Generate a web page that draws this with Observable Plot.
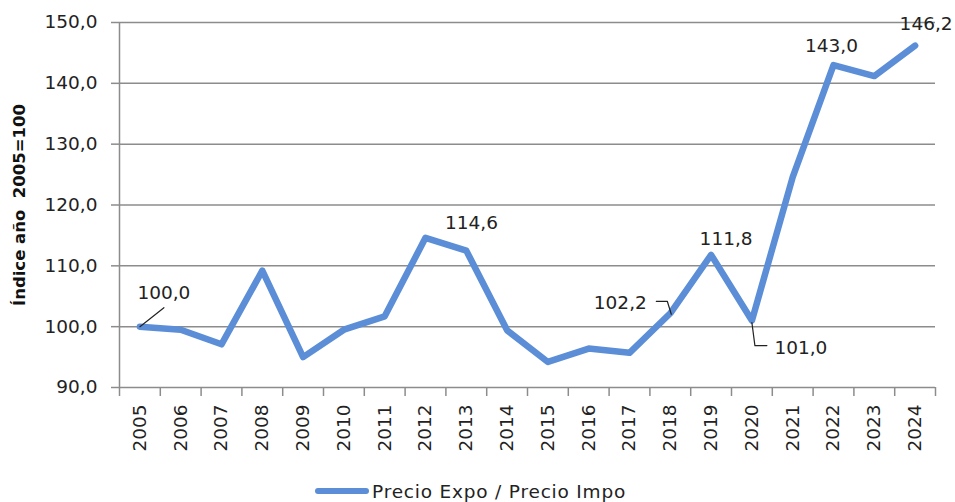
<!DOCTYPE html>
<html>
<head>
<meta charset="utf-8">
<script src="https://cdn.jsdelivr.net/npm/d3@7"></script>
<script src="https://cdn.jsdelivr.net/npm/@observablehq/plot@0.6"></script>
<style>
  html, body { margin: 0; padding: 0; background: #fff; }
  #wrap { position: relative; width: 955px; height: 502px; overflow: hidden; }
  #legend { position: absolute; left: 315px; top: 478px; height: 26px; display: flex; align-items: center;
            font-family: "DejaVu Sans", sans-serif; font-size: 18.5px; letter-spacing: 0.8px; color: #222; white-space: nowrap; }
  #legend .sw { display: inline-block; width: 54px; height: 6px; border-radius: 3px; background: #5b8ed6; margin-right: 3px; }
</style>
</head>
<body>
<div id="wrap">
  <div id="chart"></div>
  <div id="legend"><span class="sw"></span><span>Precio Expo / Precio Impo</span></div>
</div>
<script>
// ---- data ----
const years = [2005, 2006, 2007, 2008, 2009, 2010, 2011, 2012, 2013, 2014,
               2015, 2016, 2017, 2018, 2019, 2020, 2021, 2022, 2023, 2024];
const values = [100.0, 99.5, 97.1, 109.2, 95.0, 99.5, 101.7, 114.6, 112.5, 99.4,
                94.2, 96.4, 95.7, 102.2, 111.8, 101.0, 124.6, 143.0, 141.2, 146.2];
const yTicks = [90, 100, 110, 120, 130, 140, 150];
const labeledYears = [2005, 2012, 2018, 2019, 2020, 2022, 2024];
const seriesName = "Precio Expo / Precio Impo";
const yTitle = "Índice año\u00a0 2005=100";

// ---- layout ----
const W = 955, H = 476, mL = 119, mR = 20, mT = 22, mB = 89;
const xDomain = [years[0] - 0.5, years[years.length - 1] + 0.5];
const yDomain = [90, 150];
const pxPerYear = (W - mL - mR) / (xDomain[1] - xDomain[0]);
const pxPerUnit = (H - mT - mB) / (yDomain[1] - yDomain[0]);

const fmt = d => d3.format(".1f")(d).replace(".", ",");
const data = years.map((year, i) => ({year, value: values[i]}));
const byYear = new Map(data.map(d => [d.year, d]));

// label placement (pixel offsets from the data point)
const labelOffsets = {2005: [24, -34], 2012: [46, -15], 2018: [-50, -10], 2019: [15, -16],
                      2020: [49, 27], 2022: [-2, -19], 2024: [11, -22]};
const leaderOffsets = {2005: [[0, 0], [24, -19]],
                       2018: [[-14, -12], [-3, -12], [1, 1]],
                       2020: [[0, 2], [3, 25], [15, 25]]};

const labels = labeledYears.map(y => {
  const d = byYear.get(y), [ox, oy] = labelOffsets[y];
  return {x: d.year + ox / pxPerYear, y: d.value - oy / pxPerUnit, text: fmt(d.value)};
});
const leaders = [];
for (const [y, pts] of Object.entries(leaderOffsets)) {
  const d = byYear.get(+y);
  for (const [ox, oy] of pts) leaders.push({g: y, x: d.year + ox / pxPerYear, y: d.value - oy / pxPerUnit});
}
const boundaries = years.map(y => y - 0.5).concat([years[years.length - 1] + 0.5]);

const gray = "#8c8c8c";
const chart = Plot.plot({
  width: W, height: H, marginLeft: mL, marginRight: mR, marginTop: mT, marginBottom: mB,
  style: {fontFamily: "DejaVu Sans, sans-serif", fontSize: "18.5px", color: "#222", background: "#fff"},
  x: {type: "linear", domain: xDomain},
  y: {domain: yDomain},
  marks: [
    Plot.gridY(yTicks, {stroke: gray, strokeOpacity: 1, strokeWidth: 1.5}),
    Plot.ruleX([xDomain[0]], {stroke: gray, strokeWidth: 1.5}),
    Plot.axisY({ticks: yTicks, tickSize: 8, tickPadding: 14, tickFormat: fmt, stroke: gray, strokeWidth: 1.5, label: null, fill: "#222"}),
    Plot.axisX({ticks: boundaries, tickSize: 9, tickFormat: () => "", stroke: gray, strokeWidth: 1.5, label: null}),
    Plot.axisX({ticks: years, tickSize: 0, tickRotate: -90, tickPadding: 17, tickFormat: d => String(d), label: null, fill: "#222"}),
    Plot.text([yTitle], {frameAnchor: "left", textAnchor: "middle", rotate: -90, dx: -100, fontWeight: "bold", fontSize: 16.5, fill: "#111"}),
    Plot.line(data, {x: "year", y: "value", stroke: "#5b8ed6", strokeWidth: 6.5, strokeLinejoin: "round", strokeLinecap: "round"}),
    Plot.line(leaders, {x: "x", y: "y", z: "g", stroke: "#222", strokeWidth: 1.2}),
    Plot.text(labels, {x: "x", y: "y", text: "text", fill: "#222"})
  ]
});
document.getElementById("chart").appendChild(chart);
</script>
</body>
</html>
